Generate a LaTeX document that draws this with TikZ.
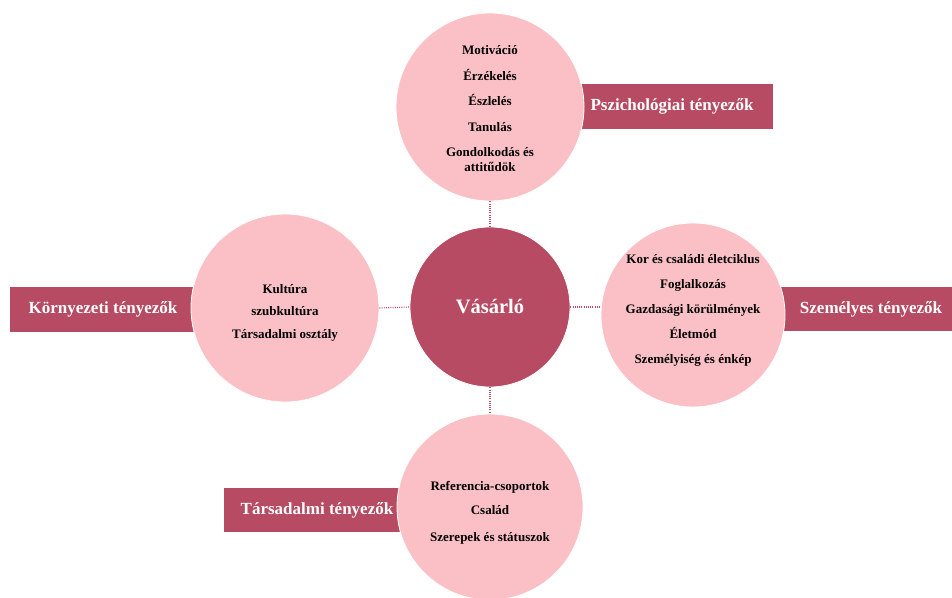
\documentclass[tikz,border=0pt]{standalone}
\usepackage{fontspec}
\setmainfont{Liberation Serif}
\definecolor{rosepink}{RGB}{251,192,197}
\definecolor{rosedark}{RGB}{182,75,99}
\tikzset{
  factorbox/.style={rectangle, fill=rosedark, draw=white, line width=0.6pt, inner sep=0pt},
  boxtext/.style={text=white, font=\bfseries\fontsize{17}{20}\selectfont, inner sep=0pt},
  factorcircle/.style={circle, fill=rosepink, draw=white, line width=0.8pt, inner sep=0pt,
    minimum size=#1pt},
  itemlist/.style={align=center, inner sep=0pt, font=\bfseries\fontsize{13}{15}\selectfont},
  buyercircle/.style={circle, fill=rosedark, draw=white, line width=0.8pt, minimum size=160pt,
    text=white, font=\bfseries\fontsize{20.5}{24}\selectfont},
  link/.style={draw=rosedark, line width=1.1pt, dash pattern=on 1pt off 1.2pt}
}
\begin{document}
\begin{tikzpicture}[x=1pt, y=-1pt]
  \useasboundingbox (0,0) rectangle (952,597);

  % labelled bars behind the circles
  \node[factorbox, minimum width=200pt, minimum height=46pt] (pbox) at (673,106) {};
  \node[factorbox, minimum width=200pt, minimum height=46pt] (kbox) at (109,309) {};
  \node[factorbox, minimum width=180pt, minimum height=45pt] (sbox) at (870,308.5) {};
  \node[factorbox, minimum width=190pt, minimum height=45pt] (tbox) at (318,509.5) {};

  \node[boxtext] (ptext) at (672,106) {Pszichológiai tényezők};
  \node[boxtext] (ktext) at (103,309) {Környezeti tényezők};
  \node[boxtext] (stext) at (871,309) {Személyes tényezők};
  \node[boxtext] (ttext) at (317,510) {Társadalmi tényezők};

  % central buyer and the four groups of factors
  \node[buyercircle] (buyer) at (490,307) {Vásárló};

  \node[factorcircle=188] (psych) at (490,107) {};
  \node[factorcircle=188] (env) at (285,308) {};
  \node[factorcircle=184] (pers) at (693,315) {};
  \node[factorcircle=186] (soc) at (490,507) {};

  \node[itemlist] (psychitems) at (490,109) {%
    Motiváció\\[10.5pt] Érzékelés\\[10.5pt] Észlelés\\[10.5pt] Tanulás\\[10.5pt]
    Gondolkodás és\\ attitűdök};
  \node[itemlist] (envitems) at (285,312.5) {%
    Kultúra\\[7.5pt] szubkultúra\\[7.5pt] Társadalmi osztály};
  \node[itemlist] (persitems) at (693,310) {%
    Kor és családi életciklus\\[10pt] Foglalkozás\\[10pt] Gazdasági körülmények\\[10pt]
    Életmód\\[10pt] Személyiség és énkép};
  \node[itemlist] (socitems) at (490,513) {%
    Referencia-csoportok\\[9pt] Család\\[12pt] Szerepek és státuszok};

  % dotted links to the buyer
  \draw[link] (psych.south) -- (buyer.north);
  \draw[link] (buyer.south) -- (soc.north);
  \draw[link] (env.east) -- (buyer.west);
  \draw[link] (buyer.east) -- (buyer.east -| pers.west);
\end{tikzpicture}
\end{document}
